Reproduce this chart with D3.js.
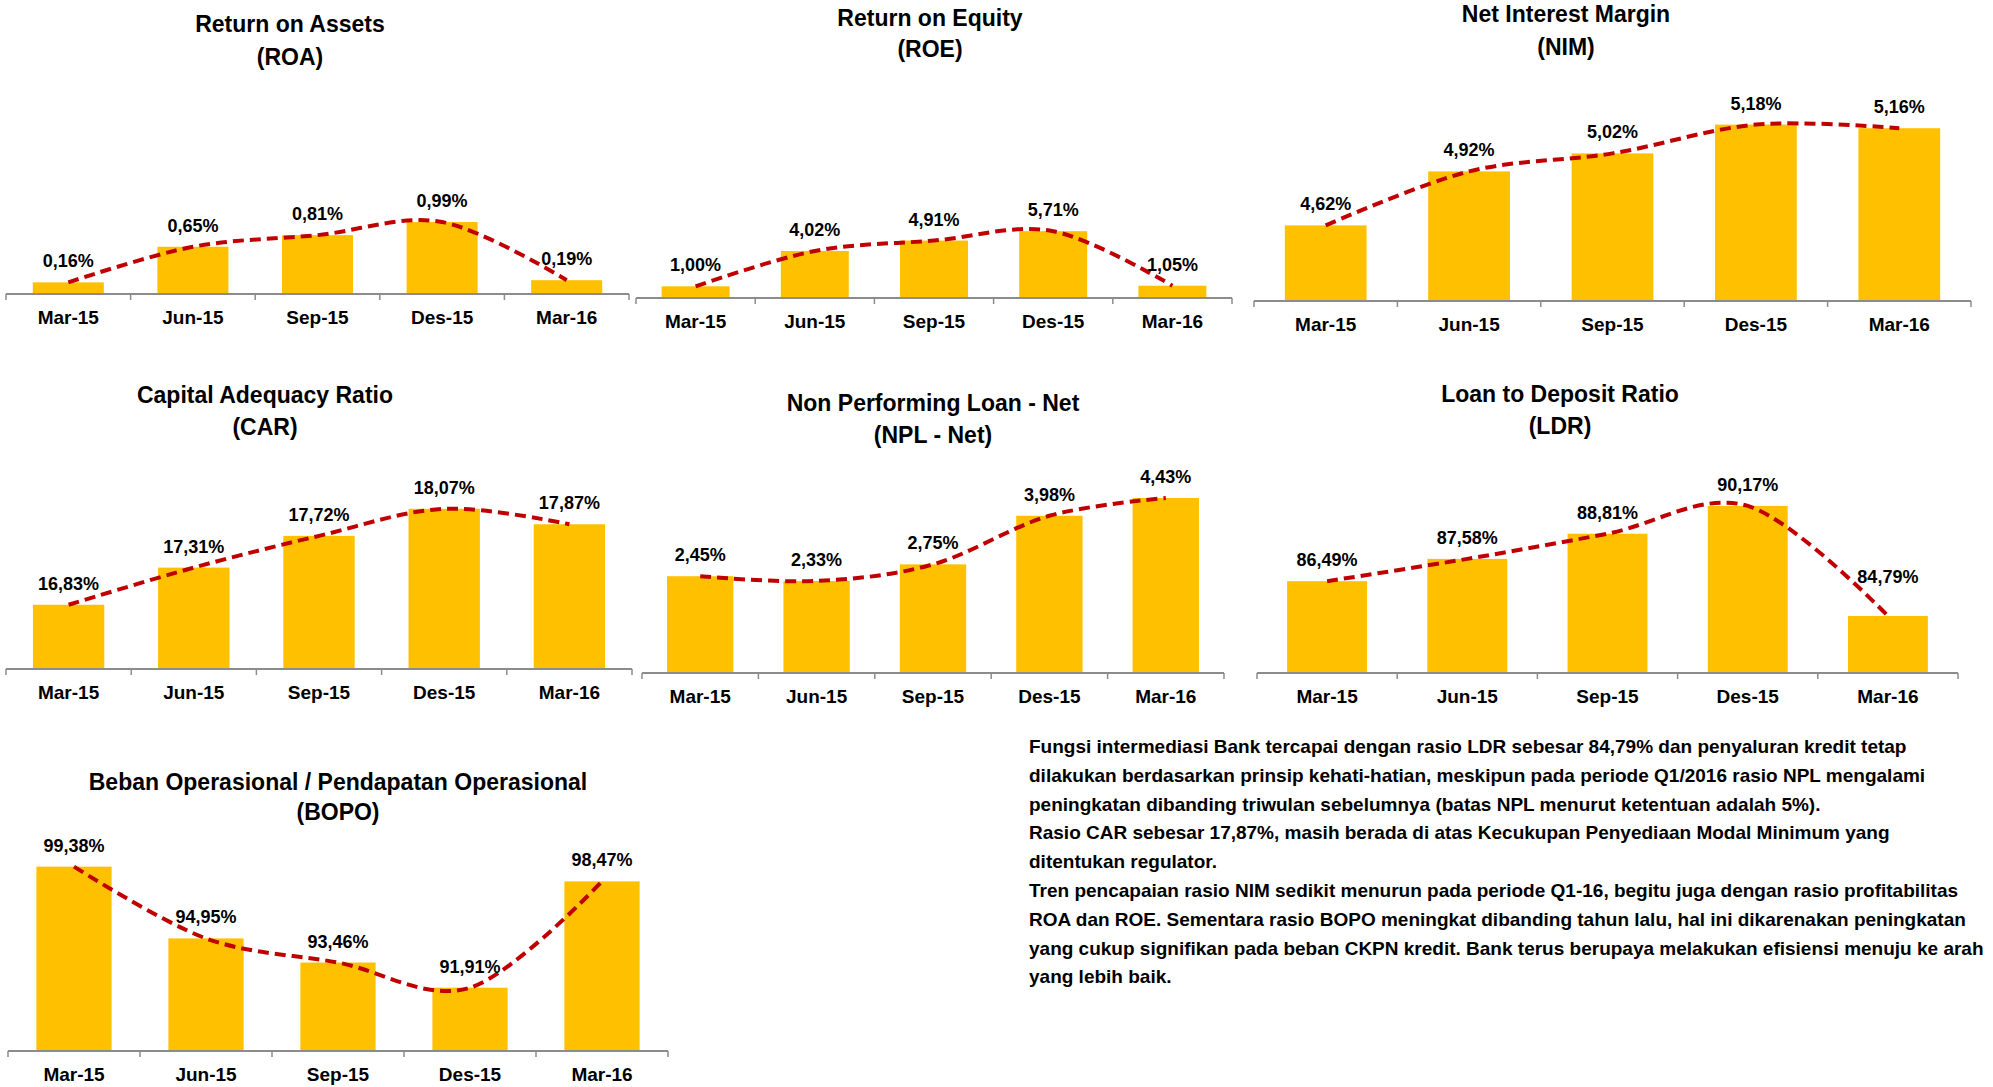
<!DOCTYPE html>
<html>
<head>
<meta charset="utf-8">
<script src="https://cdn.jsdelivr.net/npm/d3@7"></script>
<style>
	html, body { margin: 0; padding: 0; background: #fff; }
	svg { display: block; font-family: "Liberation Sans", Arial, sans-serif; font-weight: bold; }
</style>
</head>
<body>
<svg id="chart" width="1993" height="1087"></svg>
<script>
const periods = ["Mar-15", "Jun-15", "Sep-15", "Des-15", "Mar-16"];

const roaValues = [0.16, 0.65, 0.81, 0.99, 0.19];
const roeValues = [1.00, 4.02, 4.91, 5.71, 1.05];
const nimValues = [4.62, 4.92, 5.02, 5.18, 5.16];
const carValues = [16.83, 17.31, 17.72, 18.07, 17.87];
const nplValues = [2.45, 2.33, 2.75, 3.98, 4.43];
const ldrValues = [86.49, 87.58, 88.81, 90.17, 84.79];
const bopoValues = [99.38, 94.95, 93.46, 91.91, 98.47];

const commentaryLines = [
	"Fungsi intermediasi Bank tercapai dengan rasio LDR sebesar 84,79% dan penyaluran kredit tetap",
	"dilakukan berdasarkan prinsip kehati-hatian, meskipun pada periode Q1/2016 rasio NPL mengalami",
	"peningkatan dibanding triwulan sebelumnya (batas NPL menurut ketentuan adalah 5%).",
	"Rasio CAR sebesar 17,87%, masih berada di atas Kecukupan Penyediaan Modal Minimum yang",
	"ditentukan regulator.",
	"Tren pencapaian rasio NIM sedikit menurun pada periode Q1-16, begitu juga dengan rasio profitabilitas",
	"ROA dan ROE. Sementara rasio BOPO meningkat dibanding tahun lalu, hal ini dikarenakan peningkatan",
	"yang cukup signifikan pada beban CKPN kredit. Bank terus berupaya melakukan efisiensi menuju ke arah",
	"yang lebih baik."
];

// panel layout: x range of the axis, axis baseline, plot height, value domain, title
const panels = [
	{title: ["Return on Assets", "(ROA)"], values: roaValues, domain: [0, 3],
		x0: 6, x1: 629, axisY: 294, h: 218, titleX: 290, titleY: [32, 65]},
	{title: ["Return on Equity", "(ROE)"], values: roeValues, domain: [0, 20],
		x0: 636, x1: 1232, axisY: 298, h: 234, titleX: 930, titleY: [26, 57]},
	{title: ["Net Interest Margin", "(NIM)"], values: nimValues, domain: [4.2, 5.4],
		x0: 1254, x1: 1971, axisY: 301, h: 216, titleX: 1566, titleY: [22, 55]},
	{title: ["Capital Adequacy Ratio", "(CAR)"], values: carValues, domain: [16, 18.5],
		x0: 6, x1: 632, axisY: 669, h: 193.5, titleX: 265, titleY: [403, 435]},
	{title: ["Non Performing Loan - Net", "(NPL - Net)"], values: nplValues, domain: [0, 5],
		x0: 642, x1: 1224, axisY: 673, h: 197.5, titleX: 933, titleY: [411, 443]},
	{title: ["Loan to Deposit Ratio", "(LDR)"], values: ldrValues, domain: [82, 92],
		x0: 1257, x1: 1958, axisY: 673, h: 204.5, titleX: 1560, titleY: [402, 434],
		labelLift: [15, 15, 15, 15, 33]},
	{title: ["Beban Operasional / Pendapatan Operasional", "(BOPO)"], values: bopoValues, domain: [88, 100],
		x0: 8, x1: 668, axisY: 1051, h: 194.4, titleX: 338, titleY: [790, 820]}
];

const barColor = "#FFC000";
const lineColor = "#C00000";
const axisColor = "#8C8C8C";

const idLocale = d3.formatLocale({decimal: ",", thousands: ".", grouping: [3], currency: ["Rp", ""]});
const pct = idLocale.format(".2f");

const svg = d3.select("#chart");

function drawPanel(p) {
	const g = svg.append("g").attr("class", "panel");

	const xScale = d3.scaleBand().domain(periods)
		.range([p.x0, p.x1])
		.paddingInner(0.43)
		.paddingOuter(0.215);
	const yScale = d3.scaleLinear().domain(p.domain).range([p.axisY, p.axisY - p.h]);

	const data = periods.map(function(d, i){ return {name: d, amount: p.values[i]}; });
	const lift = p.labelLift || [15, 15, 15, 15, 15];

	//title
	g.selectAll(".title").data(p.title).enter().append("text")
		.attr("class", "title")
		.attr("x", p.titleX)
		.attr("y", function(d, i){ return p.titleY[i]; })
		.attr("text-anchor", "middle")
		.style("font-size", "23px")
		.text(function(d){ return d; });

	//bars
	g.selectAll("rect").data(data).enter().append("rect")
		.attr("x", function(d){ return xScale(d.name); })
		.attr("y", function(d){ return yScale(d.amount); })
		.attr("width", xScale.bandwidth())
		.attr("height", function(d){ return yScale(p.domain[0]) - yScale(d.amount); })
		.attr("fill", barColor);

	//category labels, ticks sit between the bands
	const axis = g.append("g")
		.attr("transform", "translate(" + [0, p.axisY] + ")")
		.call(d3.axisBottom(xScale).tickSize(0).tickPadding(17));
	axis.select(".domain").remove();
	axis.selectAll("text")
		.style("font-size", "19px")
		.style("font-family", "Liberation Sans, Arial, sans-serif")
		.style("font-weight", "bold")
		.attr("fill", "#000");

	const step = xScale.step();
	g.append("line")
		.attr("x1", p.x0).attr("x2", p.x1)
		.attr("y1", p.axisY).attr("y2", p.axisY)
		.attr("stroke", axisColor).attr("stroke-width", 2);
	g.selectAll(".tick-mark").data(d3.range(periods.length + 1)).enter().append("line")
		.attr("class", "tick-mark")
		.attr("x1", function(i){ return p.x0 + i * step; })
		.attr("x2", function(i){ return p.x0 + i * step; })
		.attr("y1", p.axisY).attr("y2", p.axisY + 6)
		.attr("stroke", axisColor).attr("stroke-width", 1.5);

	//smoothed dashed trend line through bar tops
	const line = d3.line()
		.x(function(d){ return xScale(d.name) + xScale.bandwidth() / 2; })
		.y(function(d){ return yScale(d.amount); })
		.curve(d3.curveCardinal.tension(0));
	g.append("path")
		.datum(data)
		.attr("d", line)
		.attr("fill", "none")
		.attr("stroke", lineColor)
		.attr("stroke-width", 4)
		.attr("stroke-dasharray", "11,6");

	//value labels
	g.selectAll(".value").data(data).enter().append("text")
		.attr("class", "value")
		.attr("x", function(d){ return xScale(d.name) + xScale.bandwidth() / 2; })
		.attr("y", function(d, i){ return yScale(d.amount) - lift[i]; })
		.attr("text-anchor", "middle")
		.style("font-size", "18px")
		.text(function(d){ return pct(d.amount) + "%"; });
}

panels.forEach(drawPanel);

//commentary block
svg.append("g").attr("class", "commentary")
	.selectAll("text").data(commentaryLines).enter().append("text")
	.attr("x", 1029)
	.attr("y", function(d, i){ return 753 + i * 28.8; })
	.style("font-size", "19px")
	.text(function(d){ return d; });
</script>
</body>
</html>
